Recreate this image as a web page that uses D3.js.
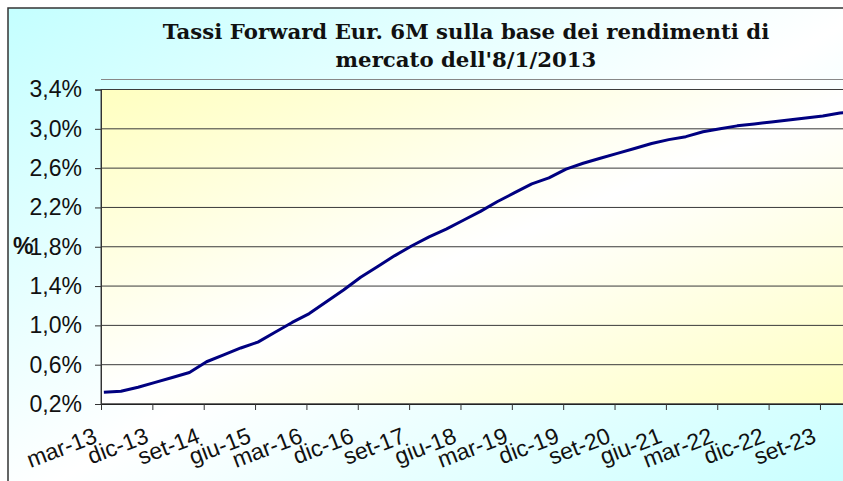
<!DOCTYPE html>
<html>
<head>
<meta charset="utf-8">
<script src="https://cdn.jsdelivr.net/npm/d3@7"></script>
<style>
  body { margin: 0; background: #fff; }
  svg { display: block; }
</style>
</head>
<body>
<div id="chart"></div>
<script>
// Quarterly forward rates (%)
var quarters = [
  "mar-13", "giu-13", "set-13", "dic-13", "mar-14", "giu-14", "set-14", "dic-14",
  "mar-15", "giu-15", "set-15", "dic-15", "mar-16", "giu-16", "set-16", "dic-16",
  "mar-17", "giu-17", "set-17", "dic-17", "mar-18", "giu-18", "set-18", "dic-18",
  "mar-19", "giu-19", "set-19", "dic-19", "mar-20", "giu-20", "set-20", "dic-20",
  "mar-21", "giu-21", "set-21", "dic-21", "mar-22", "giu-22", "set-22", "dic-22",
  "mar-23", "giu-23", "set-23", "dic-23", "mar-24"
];
var rates = [
  0.32, 0.33, 0.37, 0.42, 0.47, 0.52, 0.63, 0.70,
  0.77, 0.83, 0.93, 1.03, 1.12, 1.24, 1.36, 1.49,
  1.60, 1.71, 1.81, 1.90, 1.98, 2.07, 2.16, 2.26,
  2.35, 2.44, 2.50, 2.59, 2.65, 2.70, 2.75, 2.80,
  2.85, 2.89, 2.92, 2.97, 3.00, 3.03, 3.05, 3.07,
  3.09, 3.11, 3.13, 3.16, 3.18
];
// axis labels, one every 9 months
var xTickLabels = [
  "mar-13", "dic-13", "set-14", "giu-15", "mar-16", "dic-16", "set-17", "giu-18",
  "mar-19", "dic-19", "set-20", "giu-21", "mar-22", "dic-22", "set-23"
];
var yTicks = [0.2, 0.6, 1.0, 1.4, 1.8, 2.2, 2.6, 3.0, 3.4];
var titleLines = ["Tassi Forward Eur. 6M sulla base dei rendimenti di", "mercato dell'8/1/2013"];

var svgWidth = 843;
var svgHeight = 481;
var plot = { left: 101, top: 89.5, bottom: 404 };
var monthW = 5.706;

var svg = d3.select("#chart")
  .append("svg")
  .attr("width", svgWidth)
  .attr("height", svgHeight);

// gradients
var defs = svg.append("defs");
function diagGradient(id, edge) {
  var g = defs.append("linearGradient").attr("id", id)
    .attr("x1", 0).attr("y1", 0).attr("x2", 1).attr("y2", 1);
  g.append("stop").attr("offset", "0%").attr("stop-color", edge);
  g.append("stop").attr("offset", "50%").attr("stop-color", "#ffffff");
  g.append("stop").attr("offset", "100%").attr("stop-color", edge);
}
diagGradient("bgGrad", "#c4ffff");
diagGradient("plotGrad", "#ffffc0");

// chart area
svg.append("rect")
  .attr("x", 8).attr("y", 8)
  .attr("width", svgWidth + 20).attr("height", svgHeight + 20)
  .attr("fill", "url(#bgGrad)")
  .attr("stroke", "#333").attr("stroke-width", 1.5);

// scales
var x = d3.scaleLinear().domain([0, 135]).range([plot.left, plot.left + 135 * monthW]);
var y = d3.scaleLinear().domain([0.2, 3.4]).range([plot.bottom, plot.top]);

// plot area
svg.append("rect")
  .attr("x", plot.left).attr("y", plot.top)
  .attr("width", x(135) - plot.left).attr("height", plot.bottom - plot.top)
  .attr("fill", "url(#plotGrad)")
  .attr("stroke", "#444").attr("stroke-width", 1);

// line under title
svg.append("line")
  .attr("x1", plot.left).attr("x2", svgWidth)
  .attr("y1", 79.5).attr("y2", 79.5)
  .attr("stroke", "#888").attr("stroke-width", 1.2);

// gridlines
svg.append("g")
  .selectAll("line")
  .data(yTicks)
  .enter()
  .append("line")
  .attr("x1", plot.left).attr("x2", x(135))
  .attr("y1", function(d) { return y(d); })
  .attr("y2", function(d) { return y(d); })
  .attr("stroke", "#3a3a3a").attr("stroke-width", 1);

// y axis
var leftAxis = d3.axisLeft(y)
  .tickValues(yTicks)
  .tickSize(6)
  .tickPadding(13)
  .tickFormat(function(d) { return d.toFixed(1).replace(".", ",") + "%"; });
var yAxis = svg.append("g")
  .attr("transform", "translate(" + plot.left + ",0)")
  .call(leftAxis);
yAxis.select(".domain").attr("stroke", "#333");
yAxis.selectAll("line").attr("stroke", "#333");
yAxis.selectAll("text")
  .attr("font-family", "'Liberation Sans', Arial, sans-serif")
  .attr("font-size", 23)
  .attr("fill", "#111");

// x axis: ticks every 9 months
var xTickMonths = xTickLabels.map(function(d, i) { return i * 9; });
var bottomAxis = d3.axisBottom(x)
  .tickValues(xTickMonths)
  .tickSize(6)
  .tickSizeOuter(0)
  .tickFormat(function(d, i) { return xTickLabels[i]; });
var xAxis = svg.append("g")
  .attr("transform", "translate(0," + plot.bottom + ")")
  .call(bottomAxis);
xAxis.select(".domain").attr("stroke", "#222");
xAxis.selectAll("line").attr("stroke", "#333");
xAxis.selectAll("text")
  .attr("font-family", "'Liberation Sans', Arial, sans-serif")
  .attr("font-size", 23)
  .attr("fill", "#111")
  .attr("text-anchor", "end")
  .attr("y", 0).attr("dy", 0)
  .attr("transform", "translate(-3,38) rotate(-21)");

// series line
var line = d3.line()
  .x(function(d, i) { return x(i * 3 + 0.5); })
  .y(function(d) { return y(d); });
svg.append("path")
  .datum(rates)
  .attr("d", line)
  .attr("fill", "none")
  .attr("stroke", "#000080")
  .attr("stroke-width", 3)
  .attr("stroke-linejoin", "round");

// y title
svg.append("text")
  .attr("x", 13).attr("y", 254)
  .attr("font-family", "'Liberation Sans', Arial, sans-serif")
  .attr("font-weight", "bold")
  .attr("font-size", 23)
  .attr("fill", "#111")
  .text("%");

// chart title
var titleBase = [39, 66.5];
var title = svg.append("g");
var t0 = title.append("text")
  .attr("font-family", "'DejaVu Serif', serif")
  .attr("font-weight", "bold")
  .attr("font-size", 20)
  .text(titleLines[0]);
var fs = 20 * 607 / t0.node().getComputedTextLength();
t0.remove();
title.selectAll("text")
  .data(titleLines)
  .enter()
  .append("text")
  .attr("x", 466)
  .attr("y", function(d, i) { return titleBase[i]; })
  .attr("text-anchor", "middle")
  .attr("font-family", "'DejaVu Serif', serif")
  .attr("font-weight", "bold")
  .attr("font-size", fs)
  .attr("fill", "#111")
  .text(function(d) { return d; });
</script>
</body>
</html>
